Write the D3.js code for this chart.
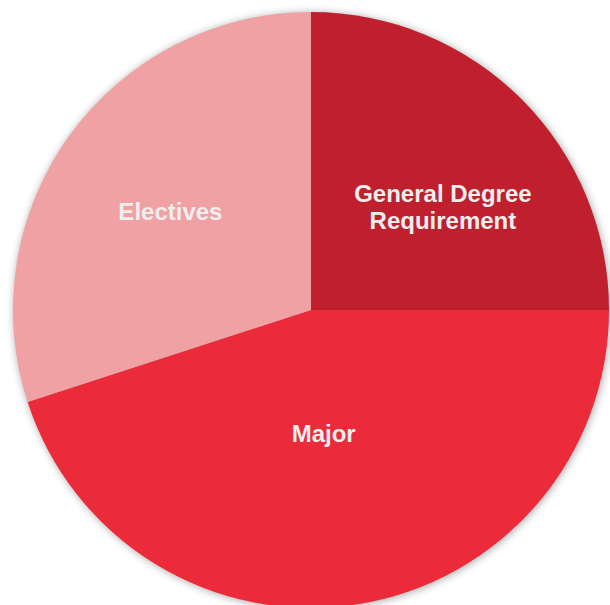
<!DOCTYPE html>
<html>
<head>
<meta charset="utf-8">
<script src="https://cdn.jsdelivr.net/npm/d3@7"></script>
<style>
  body { margin: 0; background: #fff; }
</style>
</head>
<body>
<svg id="pie" width="610" height="605"></svg>
<script>
const categories = ["General Degree Requirement", "Major", "Electives"];
const values = [25, 45, 30];
const colors = ["#c0202e", "#eb2a3a", "#f0a1a3"];
const labelLines = [["General Degree", "Requirement"], ["Major"], ["Electives"]];
// nudges from the arc centroid so labels sit like the original
const labelNudge = [[16, 13], [-13, -38], [-8, -2]];

const svg = d3.select("#pie");
const cx = 311, cy = 310, r = 298;

const defs = svg.append("defs");
const f = defs.append("filter").attr("id", "shadow")
    .attr("x", "-10%").attr("y", "-10%").attr("width", "120%").attr("height", "120%");
f.append("feGaussianBlur").attr("stdDeviation", 4);

const g = svg.append("g").attr("transform", `translate(${cx},${cy})`);

// soft shadow behind the pie
g.append("circle")
    .attr("r", r)
    .attr("cx", 1).attr("cy", 1)
    .attr("fill", "#000")
    .attr("opacity", 0.35)
    .attr("filter", "url(#shadow)");

const pie = d3.pie().sort(null).value(d => d);
const arcs = pie(values);
const arc = d3.arc().innerRadius(0).outerRadius(r);
const labelArc = d3.arc().innerRadius(r * 0.55).outerRadius(r * 0.55);

g.selectAll("path.slice")
    .data(arcs)
    .enter().append("path")
    .attr("class", "slice")
    .attr("d", arc)
    .attr("fill", (d, i) => colors[i]);

const labels = g.selectAll("text.label")
    .data(arcs)
    .enter().append("text")
    .attr("class", "label")
    .attr("transform", (d, i) => {
        const c = labelArc.centroid(d);
        return `translate(${c[0] + labelNudge[i][0]},${c[1] + labelNudge[i][1]})`;
    })
    .attr("text-anchor", "middle")
    .attr("fill", "#eeeeee")
    .attr("font-family", "Arial, 'Liberation Sans', sans-serif")
    .attr("font-weight", "bold")
    .attr("font-size", "24px");

labels.each(function(d, i) {
    const lines = labelLines[i];
    const t = d3.select(this);
    lines.forEach((ln, j) => {
        t.append("tspan")
            .attr("x", 0)
            .attr("y", (j - (lines.length - 1) / 2) * 28)
            .attr("dy", "0.35em")
            .text(ln);
    });
});
</script>
</body>
</html>
